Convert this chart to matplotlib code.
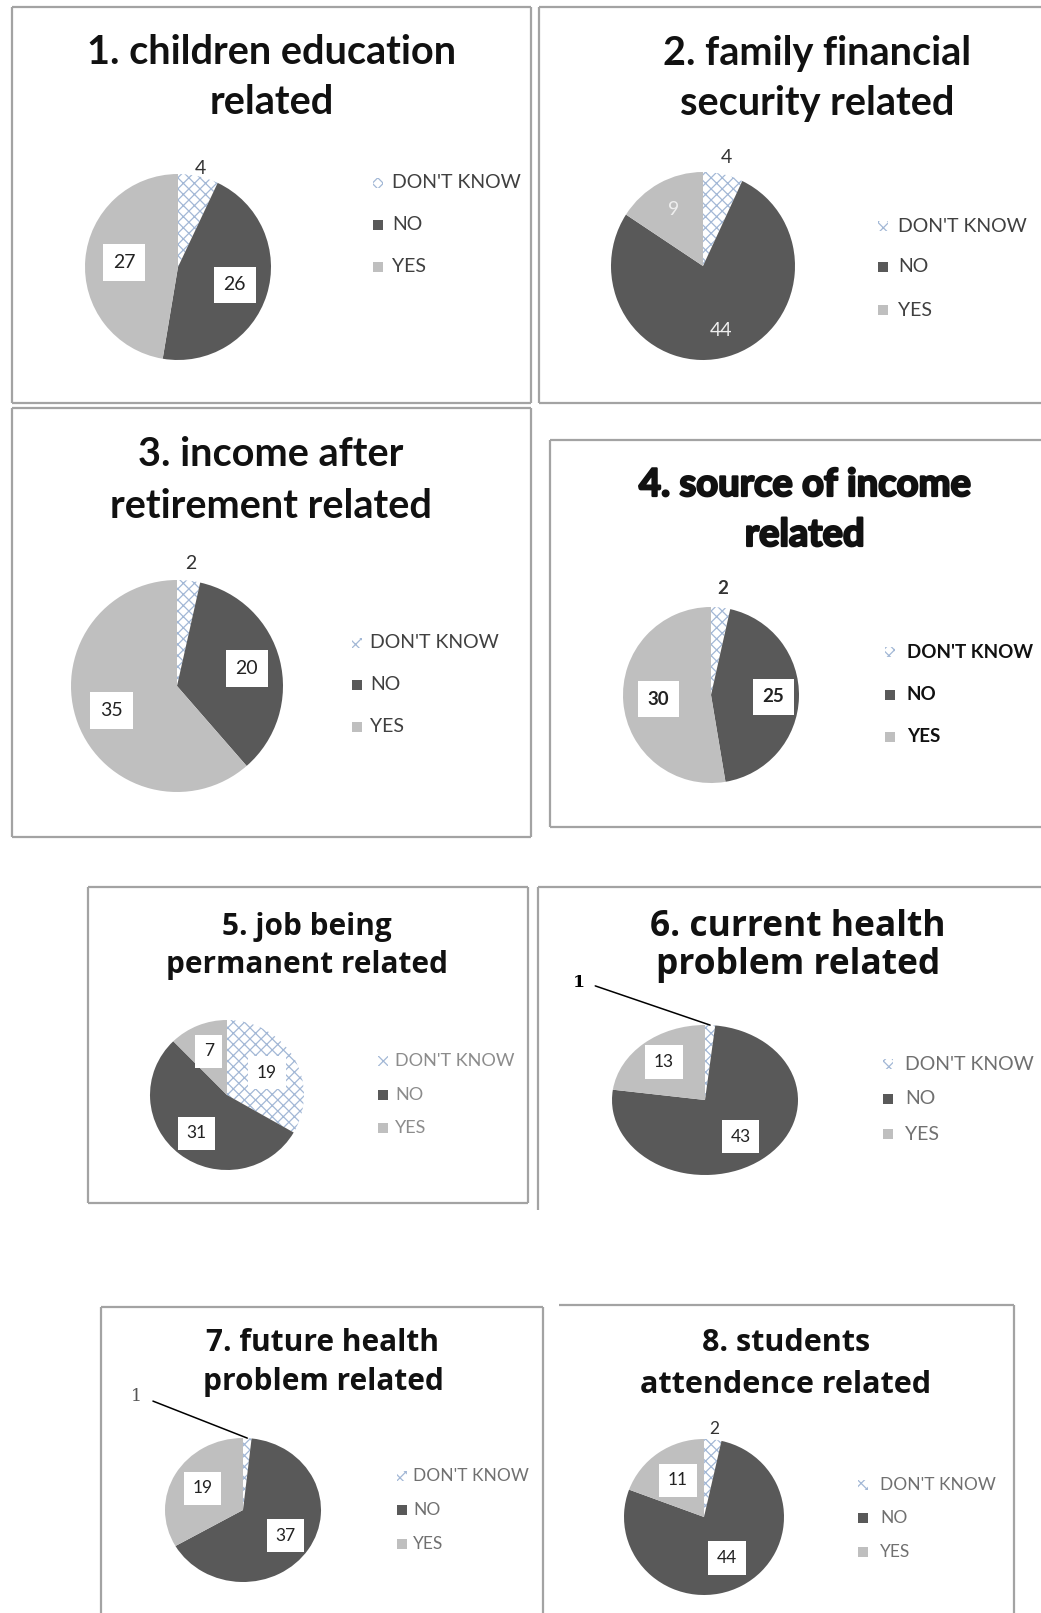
import matplotlib
matplotlib.use("Agg")
import matplotlib.pyplot as plt
import matplotlib.patheffects as pe
from matplotlib.patches import Rectangle
import numpy as np

plt.rcParams['hatch.linewidth'] = 0.9

W, H = 1041, 1613

categories = ["DON'T KNOW", "NO", "YES"]

# answers per question, in the order DON'T KNOW, NO, YES
children_education = [4, 26, 27]
family_security = [4, 44, 9]
retirement_income = [2, 20, 35]
income_source = [2, 25, 30]
job_permanent = [19, 31, 7]
current_health = [1, 43, 13]
future_health = [1, 37, 19]
student_attendance = [2, 44, 11]

titles = [
    ["1. children education", "related"],
    ["2. family financial", "security related"],
    ["3. income after", "retirement related"],
    ["4. source of income", "related"],
    ["5. job being", "permanent related"],
    ["6. current health", "problem related"],
    ["7. future health", "problem related"],
    ["8. students", "attendence related"],
]

series = [children_education, family_security, retirement_income, income_source,
          job_permanent, current_health, future_health, student_attendance]

colors = ['white', '#595959', '#bfbfbf']
hatch_color = '#a3b8d6'
box_color = '#a3a3a3'

# layout of each panel, in pixels of the final picture
panels = [
    dict(box=(12, 7, 531, 403), sides='ltrb', tx=272, ty=(53, 103), tfont='Lato', tsize=28.5, heavy=False,
         pie=(178, 267, 93, 93), leg=(378, 392, (183, 225, 267)), lsize=14, lcolor='#404040', lweight='normal',
         dist=[1.08, 0.64, 0.58], nsize=14, nweight='normal', inner='box', dk='out'),
    dict(box=(539, 7, 1050, 403), sides='ltb', tx=817, ty=(53, 103), tfont='Lato', tsize=28.5, heavy=False,
         pie=(703, 266, 92, 94), leg=(883, 898, (226, 267, 310)), lsize=14, lcolor='#404040', lweight='normal',
         dist=[1.18, 0.71, 0.68], nsize=14, nweight='normal', inner='white', dk='out'),
    dict(box=(12, 408, 531, 837), sides='ltrb', tx=271, ty=(455, 506), tfont='Lato', tsize=28.5, heavy=False,
         pie=(177, 686, 106, 106), leg=(357, 370, (643, 685, 727)), lsize=14, lcolor='#404040', lweight='normal',
         dist=[1.16, 0.68, 0.66], nsize=14, nweight='normal', inner='box', dk='out'),
    dict(box=(550, 440, 1050, 827), sides='ltb', tx=805, ty=(485, 535), tfont='Lato', tsize=27.5, heavy=True,
         pie=(711, 695, 88, 88), leg=(890, 907, (652, 695, 737)), lsize=13.5, lcolor='#111111', lweight='bold',
         dist=[1.22, 0.71, 0.60], nsize=13.5, nweight='bold', inner='box', dk='out'),
    dict(box=(88, 887, 528, 1203), sides='ltrb', tx=307, ty=(927, 965), tfont='Open Sans', tsize=21.4, heavy=False,
         pie=(227, 1095, 77, 75), leg=(383, 395, (1061, 1095, 1128)), lsize=13, lcolor='#8c8c8c', lweight='normal',
         dist=[0.6, 0.65, 0.63], nsize=12.5, nweight='normal', inner='box', dk='box'),
    dict(box=(538, 887, 1050, 1210), sides='lt', tx=798, ty=(927, 965), tfont='Open Sans', tsize=25.5, heavy=False,
         pie=(705, 1100, 93, 75), leg=(888, 905, (1064, 1099, 1134)), lsize=14, lcolor='#707070', lweight='normal',
         dist=[None, 0.62, 0.67], nsize=12.5, nweight='normal', inner='box', dk='leader'),
    dict(box=(101, 1307, 543, 1640), sides='ltr', tx=323, ty=(1343, 1382), tfont='Open Sans', tsize=21.5, heavy=False,
         pie=(243, 1510, 78, 72), leg=(402, 413, (1476, 1510, 1544)), lsize=12.5, lcolor='#707070', lweight='normal',
         dist=[None, 0.65, 0.6], nsize=12.5, nweight='normal', inner='box', dk='leader'),
    dict(box=(559, 1305, 1014, 1640), sides='tr', tx=786, ty=(1343, 1385), tfont='Open Sans', tsize=22, heavy=False,
         pie=(704, 1517, 80, 78), leg=(863, 880, (1485, 1518, 1552)), lsize=12.5, lcolor='#707070', lweight='normal',
         dist=[1.13, 0.6, 0.57], nsize=12.5, nweight='normal', inner='box', dk='out'),
]
# leader label look for the two tiny slices (panel 6 bold, panel 7 thin grey)
leader_style = {5: dict(weight='bold', color='black'), 6: dict(weight='normal', color='#555555')}

fig = plt.figure(figsize=(W / 100, H / 100), dpi=100)
fig.patch.set_facecolor('white')

# overlay in pixel coords for boxes, titles and legends
bg = fig.add_axes([0, 0, 1, 1])
bg.set_xlim(0, W)
bg.set_ylim(H, 0)
bg.axis('off')

for k, (values, title, p) in enumerate(zip(series, titles, panels)):
    # panel 4 uses a much blacker face, fake it with a stroke
    thick = [pe.withStroke(linewidth=1.6, foreground='#111111')] if p['heavy'] else None

    x0, y0, x1, y1 = p['box']
    edges = {'l': ([x0, x0], [y0, y1]), 'r': ([x1, x1], [y0, y1]),
             't': ([x0, x1], [y0, y0]), 'b': ([x0, x1], [y1, y1])}
    for s in p['sides']:
        bg.plot(*edges[s], color=box_color, lw=1.6, solid_capstyle='butt')

    for line, y in zip(title, p['ty']):
        bg.text(p['tx'], y, line, ha='center', va='center', fontsize=p['tsize'],
                family=p['tfont'], weight='bold', color='#111111', path_effects=thick)

    cx, cy, rx, ry = p['pie']
    ax = fig.add_axes([(cx - rx) / W, 1 - (cy + ry) / H, 2 * rx / W, 2 * ry / H])
    wedges, _ = ax.pie(values, colors=colors, startangle=90, counterclock=False,
                       wedgeprops=dict(linewidth=0))
    wedges[0].set_hatch('xxx')
    wedges[0].set_edgecolor(hatch_color)
    ax.set_aspect('auto')
    ax.set_xlim(-1, 1)
    ax.set_ylim(-1, 1)
    ax.axis('off')

    for i, (w, v) in enumerate(zip(wedges, values)):
        mid = np.deg2rad((w.theta1 + w.theta2) / 2)
        kw = dict(ha='center', va='center', fontsize=p['nsize'], weight=p['nweight'], family='Lato')
        style = p['dk'] if i == 0 else p['inner']
        if style == 'leader':
            ax.annotate(str(v), xy=(np.cos(mid), np.sin(mid)), xytext=(-1.36, 1.57),
                        fontsize=p['nsize'], family='DejaVu Serif', ha='center', va='center',
                        arrowprops=dict(arrowstyle='-', color='black', lw=1.1,
                                        shrinkA=6, shrinkB=0, relpos=(1, 0.5)),
                        **leader_style[k])
            continue
        d = p['dist'][i]
        x, y = d * np.cos(mid), d * np.sin(mid)
        if style == 'out':
            ax.text(x, y, str(v), color='#333333', **kw)
        elif style == 'white':
            ax.text(x, y, str(v), color='#eeeeee', **kw)
        else:
            ax.text(x, y, str(v), color='#222222',
                    bbox=dict(boxstyle='square,pad=0.5', fc='white', ec='none'), **kw)

    # legend drawn row by row
    mx, tx, rows = p['leg']
    for w, name, y in zip(wedges, categories, rows):
        sq = Rectangle((mx - 5, y - 5), 10, 10, facecolor=w.get_facecolor(),
                       edgecolor=hatch_color if w is wedges[0] else 'none', lw=0)
        if w is wedges[0]:
            sq.set_hatch('xxx')
        bg.add_patch(sq)
        bg.text(tx, y, name, ha='left', va='center', fontsize=p['lsize'], family='Lato',
                weight=p['lweight'], color=p['lcolor'])

fig.savefig('out.png', dpi=100, facecolor='white')
